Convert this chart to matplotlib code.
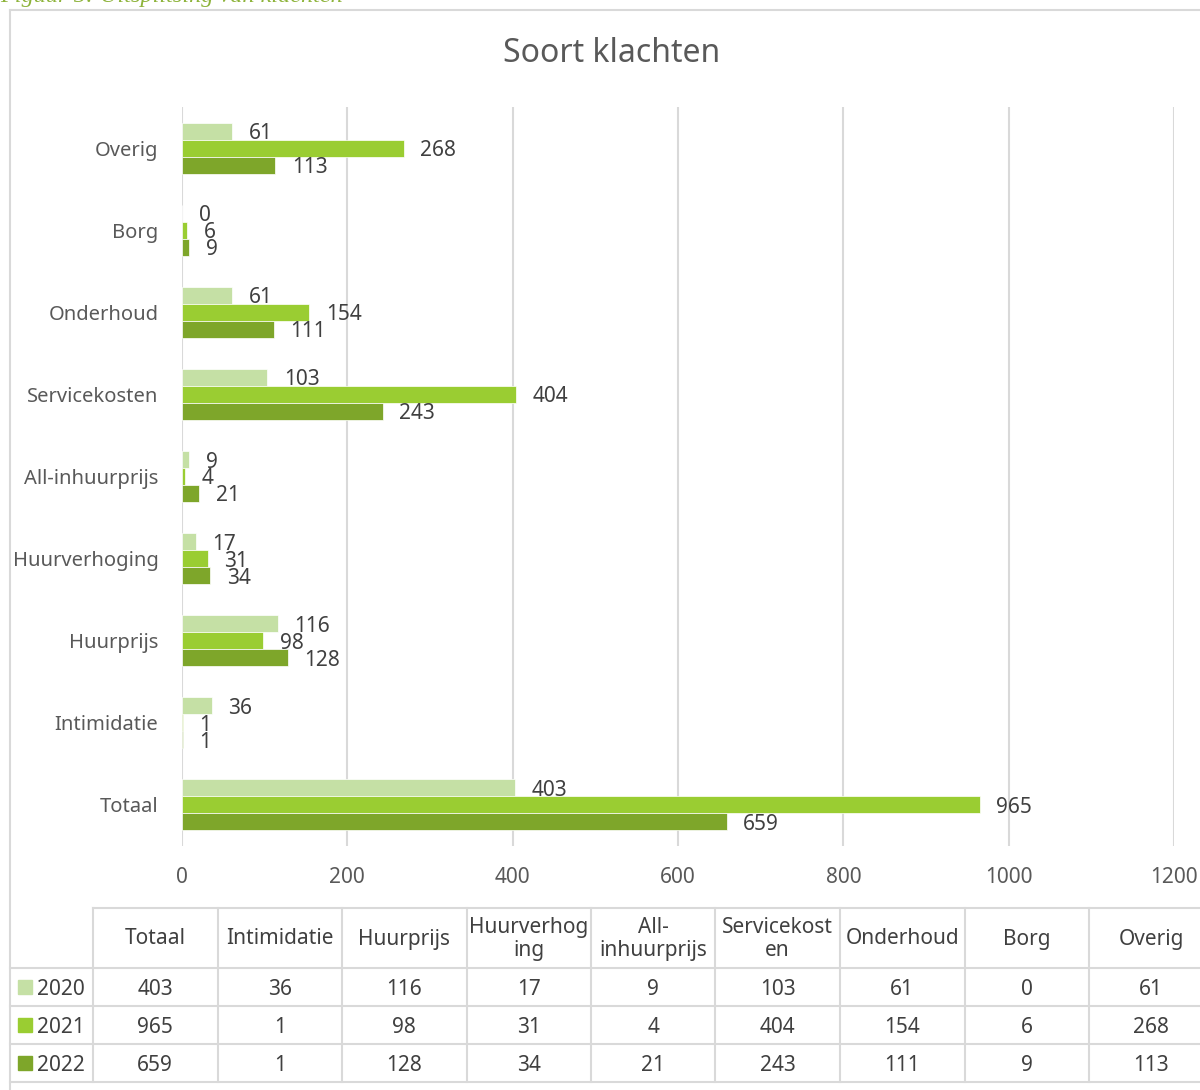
import matplotlib.pyplot as plt
import numpy as np
from matplotlib.lines import Line2D
from matplotlib.patches import Rectangle

plt.rcParams['font.family'] = ['Noto Sans', 'DejaVu Sans']

categories = ['Totaal', 'Intimidatie', 'Huurprijs', 'Huurverhoging', 'All-inhuurprijs',
              'Servicekosten', 'Onderhoud', 'Borg', 'Overig']
table_headers = ['Totaal', 'Intimidatie', 'Huurprijs', 'Huurverhog\ning', 'All-\ninhuurprijs',
                 'Servicekost\nen', 'Onderhoud', 'Borg', 'Overig']
years = ['2020', '2021', '2022']
vals_2020 = [403, 36, 116, 17, 9, 103, 61, 0, 61]
vals_2021 = [965, 1, 98, 31, 4, 404, 154, 6, 268]
vals_2022 = [659, 1, 128, 34, 21, 243, 111, 9, 113]
series = [vals_2020, vals_2021, vals_2022]
colors = ['#C5E0A5', '#9ACD32', '#7EA62A']

W, H = 1200, 1090
TXT = '#404040'
GRID = '#D9D9D9'


def fx(px):
    return px / W


def fy(py):
    return 1 - py / H


fig = plt.figure(figsize=(W / 100, H / 100), dpi=100)

# caption, cut off at the top like in the source document
fig.text(fx(0), fy(2), 'Figuur 5: Uitsplitsing van klachten', family='Liberation Serif',
         style='italic', fontsize=17.5, color='#8DB33A', va='baseline', ha='left')

# chart frame
fig.add_artist(Line2D([fx(10), fx(10)], [fy(10), fy(H)], color=GRID, lw=1.5))
fig.add_artist(Line2D([fx(10), fx(W)], [fy(10), fy(10)], color=GRID, lw=1.5))

fig.text(fx(612), fy(53), 'Soort klachten', fontsize=23, color='#595959', ha='center', va='center')

ax = fig.add_axes([fx(182), fy(846), fx(1174) - fx(182), fy(107) - fy(846)])
y = np.arange(len(categories))
bh = 0.207
for i, vals in enumerate(series):
    pos = y + (1 - i) * bh
    ax.barh(pos, vals, height=bh, color=colors[i], edgecolor='white', linewidth=0.5, zorder=3)
    for p, v in zip(pos, vals):
        ax.text(v + 20, p, str(v), va='center_baseline', ha='left', fontsize=15, color=TXT, zorder=4)

ax.set_xlim(0, 1200)
ax.set_ylim(-0.5, len(categories) - 0.5)
ax.set_xticks(range(0, 1201, 200))
ax.set_yticks(y)
ax.set_yticklabels(categories)
ax.tick_params(axis='both', length=0, labelsize=15, colors='#595959')
ax.tick_params(axis='y', labelsize=14.5, pad=17)
ax.tick_params(axis='x', pad=15)
ax.grid(axis='x', color=GRID, lw=1.5, zorder=0)
for s in ax.spines.values():
    s.set_visible(False)

# data table
col_left = 93
col_w = 124.5
row_lines = [908, 968, 1006, 1044, 1082]
n = len(categories)
right = col_left + n * col_w
fig.add_artist(Line2D([fx(col_left), fx(right)], [fy(908), fy(908)], color=GRID, lw=1.5))
for ry in row_lines[1:]:
    fig.add_artist(Line2D([fx(10), fx(right)], [fy(ry), fy(ry)], color=GRID, lw=1.5))
for j in range(n + 1):
    xx = col_left + j * col_w
    fig.add_artist(Line2D([fx(xx), fx(xx)], [fy(908), fy(1082)], color=GRID, lw=1.5))

for j, h in enumerate(table_headers):
    cx = col_left + (j + 0.5) * col_w
    fig.text(fx(cx), fy(939), h, ha='center', va='center', fontsize=15, color=TXT,
             linespacing=1.15)

for i, vals in enumerate(series):
    cy = (row_lines[i + 1] + row_lines[i + 2]) / 2
    fig.add_artist(Rectangle((fx(18), fy(cy + 7)), fx(14), fy(0) - fy(14), color=colors[i]))
    fig.text(fx(37), fy(cy), years[i], ha='left', va='center_baseline', fontsize=15, color=TXT)
    for j, v in enumerate(vals):
        cx = col_left + (j + 0.5) * col_w
        fig.text(fx(cx), fy(cy), str(v), ha='center', va='center_baseline', fontsize=15, color=TXT)

fig.savefig('out.png', dpi=100, facecolor='white')
